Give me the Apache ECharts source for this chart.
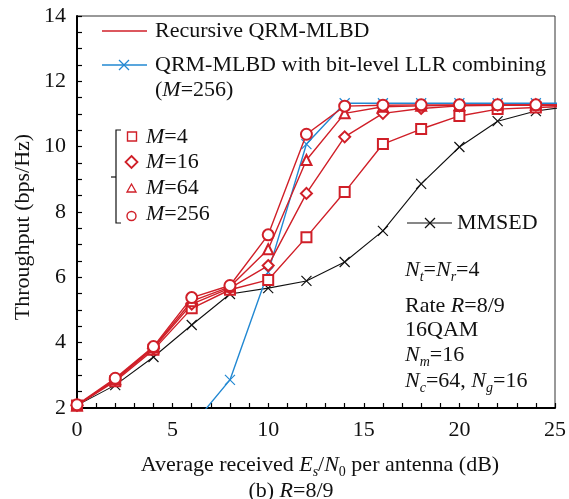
<!DOCTYPE html>
<html><head><meta charset="utf-8">
<script src="https://cdn.jsdelivr.net/npm/echarts@6/dist/echarts.min.js"></script>
<style>html,body{margin:0;padding:0;background:#fff}#c{width:569px;height:499px}</style>
</head><body><div id="c"></div>
<script>
const snr = [0, 2, 4, 6, 8, 10, 12, 14, 16, 18, 20, 22, 24, 26];
const m4 = [2.08, 2.82, 3.78, 5.05, 5.62, 5.92, 7.23, 8.61, 10.08, 10.54, 10.94, 11.15, 11.20, 11.24];
const m16 = [2.08, 2.86, 3.83, 5.18, 5.67, 6.36, 8.57, 10.30, 11.02, 11.17, 11.25, 11.27, 11.27, 11.27];
const m64 = [2.08, 2.88, 3.85, 5.27, 5.71, 6.86, 9.59, 11.02, 11.22, 11.25, 11.27, 11.28, 11.28, 11.28];
const m256 = [2.10, 2.91, 3.88, 5.38, 5.75, 7.30, 10.38, 11.24, 11.27, 11.28, 11.28, 11.28, 11.28, 11.28];
const snrLLR = [6, 8, 10, 12, 14, 16, 18, 20, 22, 24, 26];
const llr256 = [1.45, 2.86, 6.16, 10.08, 11.33, 11.33, 11.33, 11.33, 11.33, 11.33, 11.33];
const mmsed = [2.08, 2.70, 3.56, 4.54, 5.49, 5.67, 5.89, 6.47, 7.42, 8.86, 9.99, 10.78, 11.09, 11.25];
const xTicks = [0, 5, 10, 15, 20, 25];
const yTicks = [2, 4, 6, 8, 10, 12, 14];

const RED = '#d01f28', BLUE = '#2288d2', BLACK = '#111';
const FONT = '"Liberation Serif", "Times New Roman", serif';
const FS = 22;
const XPATH = 'path://M0,0L10,10M10,0L0,10';

function pts(xs, ys) {
  return xs.map((x, i) => {
    const d = { value: [x, ys[i]] };
    if (x > 25 || ys[i] < 2) d.symbol = 'none';
    return d;
  });
}
function redSeries(name, ys, sym, size) {
  return {
    name, type: 'line', data: pts(snr, ys), symbol: sym, symbolSize: size,
    lineStyle: { color: RED, width: 1.4 }, itemStyle: { color: RED, borderColor: RED, borderWidth: 1.4 },
    z: 4, animation: false
  };
}
const rich = {
  n: { fontFamily: FONT, fontSize: FS, color: BLACK, lineHeight: 28 },
  i: { fontFamily: FONT, fontSize: FS, color: BLACK, fontStyle: 'italic', lineHeight: 28 },
  s: { fontFamily: FONT, fontSize: 14, color: BLACK, fontStyle: 'italic', lineHeight: 28, verticalAlign: 'bottom' },
  s0: { fontFamily: FONT, fontSize: 14, color: BLACK, lineHeight: 28, verticalAlign: 'bottom' }
};
function txt(x, y, text, align) {
  return { type: 'text', x, y, z: 10,
    style: { text, rich, font: FS + 'px ' + FONT, fill: BLACK, verticalAlign: 'middle', align: align || 'left' } };
}
function xMark(cx, cy, color) {
  return { type: 'polyline', z: 10, shape: { points: [[cx - 5, cy - 5], [cx + 5, cy + 5]] }, style: { stroke: color, lineWidth: 1.2, fill: null } };
}
function xMark2(cx, cy, color) {
  return { type: 'polyline', z: 10, shape: { points: [[cx + 5, cy - 5], [cx - 5, cy + 5]] }, style: { stroke: color, lineWidth: 1.2, fill: null } };
}
const line = (x1, y1, x2, y2, color, w) => ({ type: 'line', z: 10, shape: { x1, y1, x2, y2 }, style: { stroke: color, lineWidth: w || 1.4 } });

const graphic = [
  line(102, 31, 147, 31, RED),
  txt(155, 31, '{n|Recursive QRM-MLBD}'),
  line(102, 65, 147, 65, BLUE),
  xMark(124, 65, BLUE), xMark2(124, 65, BLUE),
  txt(155, 65, '{n|QRM-MLBD with bit-level LLR combining}'),
  txt(155, 90, '{n|(}{i|M}{n|=256)}'),
  { type: 'polyline', z: 10, shape: { points: [[121, 130], [116, 130], [116, 223], [121, 223]] }, style: { stroke: BLACK, lineWidth: 1.2, fill: null } },
  line(111, 177, 116, 177, BLACK, 1.2),
  { type: 'rect', z: 10, shape: { x: 127.5, y: 132, width: 9, height: 9 }, style: { stroke: RED, fill: '#fff', lineWidth: 1.4 } },
  { type: 'polygon', z: 10, shape: { points: [[131.5, 156], [137.5, 162], [131.5, 168], [125.5, 162]] }, style: { stroke: RED, fill: '#fff', lineWidth: 1.8 } },
  { type: 'polygon', z: 10, shape: { points: [[131.5, 184], [136, 192], [127, 192]] }, style: { stroke: RED, fill: '#fff', lineWidth: 1.3 } },
  { type: 'circle', z: 10, shape: { cx: 131.5, cy: 216, r: 4.5 }, style: { stroke: RED, fill: '#fff', lineWidth: 1.4 } },
  txt(146, 137, '{i|M}{n|=4}'),
  txt(146, 162, '{i|M}{n|=16}'),
  txt(146, 188, '{i|M}{n|=64}'),
  txt(146, 214, '{i|M}{n|=256}'),
  line(407, 223, 452, 223, BLACK, 1.2),
  xMark(430, 223, BLACK), xMark2(430, 223, BLACK),
  txt(457, 223, '{n|MMSED}'),
  txt(405, 270, '{i|N}{s|t}{n|=}{i|N}{s|r}{n|=4}'),
  txt(405, 306, '{n|Rate }{i|R}{n|=8/9}'),
  txt(405, 330, '{n|16QAM}'),
  txt(405, 355, '{i|N}{s|m}{n|=16}'),
  txt(405, 381, '{i|N}{s|c}{n|=64, }{i|N}{s|g}{n|=16}'),
  txt(320, 465, '{n|Average received }{i|E}{s|s}{n|/}{i|N}{s0|0}{n| per antenna (dB)}', 'center'),
  txt(291, 491, '{n|(b) }{i|R}{n|=8/9}', 'center'),
  { type: 'text', z: 10, x: 23, y: 227, rotation: Math.PI / 2,
    style: { text: 'Throughput (bps/Hz)', font: FS + 'px ' + FONT, fill: BLACK, align: 'center', verticalAlign: 'middle' } }
];

const chart = echarts.init(document.getElementById('c'), null, { renderer: 'canvas' });
chart.setOption({
  animation: false,
  backgroundColor: '#fff',
  grid: { left: 77, right: 14, top: 16, bottom: 91, show: true, borderColor: '#333', borderWidth: 1, backgroundColor: 'transparent' },
  xAxis: {
    type: 'value', min: 0, max: 25, interval: 5,
    axisLine: { show: true, onZero: false, lineStyle: { color: '#000', width: 2 } },
    axisTick: { show: true, inside: true, length: 5, lineStyle: { color: '#000', width: 1.2 } },
    minorTick: { show: true, splitNumber: 5, length: 5, lineStyle: { color: '#000', width: 1.2 } },
    splitLine: { show: false },
    axisLabel: { fontFamily: FONT, fontSize: FS, color: BLACK, margin: 11, formatter: v => xTicks.includes(v) ? String(v) : '' }
  },
  yAxis: {
    type: 'value', min: 2, max: 14, interval: 2,
    axisLine: { show: true, onZero: false, lineStyle: { color: '#000', width: 2 } },
    axisTick: { show: true, inside: true, length: 5, lineStyle: { color: '#000', width: 1.2 } },
    minorTick: { show: true, splitNumber: 4, length: 5, lineStyle: { color: '#000', width: 1.2 } },
    splitLine: { show: false },
    axisLabel: { fontFamily: FONT, fontSize: FS, color: BLACK, margin: 11, formatter: v => yTicks.includes(v) ? String(v) : '' }
  },
  series: [
    { name: 'MMSED', type: 'line', data: pts(snr, mmsed), symbol: XPATH, symbolSize: 10,
      lineStyle: { color: BLACK, width: 1.1 }, itemStyle: { color: 'none', borderColor: BLACK, borderWidth: 1.2 }, z: 2 },
    { name: 'LLR', type: 'line', data: pts(snrLLR, llr256), symbol: XPATH, symbolSize: 10,
      lineStyle: { color: BLUE, width: 1.4 }, itemStyle: { color: 'none', borderColor: BLUE, borderWidth: 1.2 }, z: 3 },
    redSeries('M=4', m4, 'emptyRect', 10),
    redSeries('M=16', m16, 'emptyDiamond', 11),
    redSeries('M=64', m64, 'emptyTriangle', 10),
    redSeries('M=256', m256, 'emptyCircle', 11)
  ],
  graphic
});
</script></body></html>
